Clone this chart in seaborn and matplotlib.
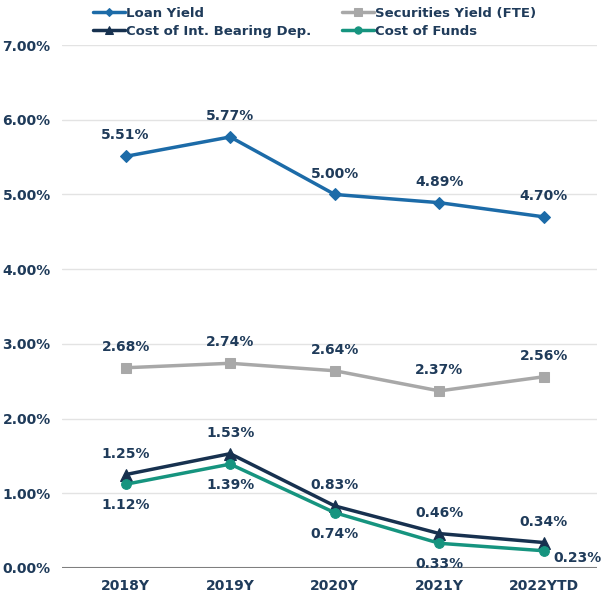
import matplotlib
matplotlib.use("Agg")
import matplotlib.pyplot as plt
import seaborn as sns
import pandas as pd

years = ["2018Y", "2019Y", "2020Y", "2021Y", "2022YTD"]
loan_yield = [5.51, 5.77, 5.00, 4.89, 4.70]
sec_yield = [2.68, 2.74, 2.64, 2.37, 2.56]
cost_ibd = [1.25, 1.53, 0.83, 0.46, 0.34]
cost_funds = [1.12, 1.39, 0.74, 0.33, 0.23]
yticks = [0, 1, 2, 3, 4, 5, 6, 7]

sns.set_theme(style="white")
plt.rcParams['font.family'] = ['DejaVu Sans']

txt = "#1F3B5A"
series = [
    ("Loan Yield", loan_yield, "#1C6BA8", "D", 6),
    ("Securities Yield (FTE)", sec_yield, "#A8A8A8", "s", 7),
    ("Cost of Int. Bearing Dep.", cost_ibd, "#17314F", "^", 8),
    ("Cost of Funds", cost_funds, "#16947F", "o", 7),
]
rows = []
for name, vals, *_ in series:
    for i, (y, v) in enumerate(zip(years, vals)):
        rows.append({"Year": y, "x": i, "value": v, "Series": name})
df = pd.DataFrame(rows)

fig = plt.figure(figsize=(6.12, 6.01), dpi=100)
ax = fig.add_axes([0.101, 0.055, 0.875, 0.870])

for name, vals, color, marker, ms in series:
    sub = df[df["Series"] == name]
    sns.lineplot(data=sub, x="x", y="value", ax=ax, color=color, marker=marker,
                 markersize=ms, markeredgecolor=color, linewidth=2.5, label=name,
                 zorder=3)

lab_kw = dict(textcoords="offset points", fontsize=10, fontweight="bold", color=txt)
for vals in (loan_yield, sec_yield, cost_ibd):
    for i, v in enumerate(vals):
        ax.annotate(f"{v:.2f}%", (i, v), xytext=(0, 10), ha="center", va="bottom", **lab_kw)
for i, v in enumerate(cost_funds):
    if i == len(cost_funds) - 1:
        ax.annotate(f"{v:.2f}%", (i, v), xytext=(24, -5), ha="center", va="center", **lab_kw)
    else:
        ax.annotate(f"{v:.2f}%", (i, v), xytext=(0, -10), ha="center", va="top", **lab_kw)

ax.set_xlim(-0.61, 4.51)
ax.set_ylim(0, 7)
ax.set_yticks(yticks)
ax.set_yticklabels([f"{t:.2f}%" for t in yticks])
ax.set_xticks(range(len(years)))
ax.set_xticklabels(years)
ax.tick_params(axis="both", length=0, labelsize=10, colors=txt, pad=8)
for lab in ax.get_xticklabels() + ax.get_yticklabels():
    lab.set_fontweight("bold")
ax.set_xlabel("")
ax.set_ylabel("")
ax.grid(axis="y", color="#E3E3E3", linewidth=1)
ax.axhline(0, color="#7F7F7F", linewidth=1.5, zorder=2)
for s in ax.spines.values():
    s.set_visible(False)

h, l = ax.get_legend_handles_labels()
ax.get_legend().remove()
leg_kw = dict(loc="upper left", frameon=False, handlelength=2.4, handletextpad=0.1,
              labelspacing=0.36, borderpad=0, borderaxespad=0, markerscale=0.75,
              prop={"weight": "bold", "size": 9.5})
leg1 = fig.legend([h[0], h[2]], [l[0], l[2]], bbox_to_anchor=(93 / 612, 1 - 7 / 601), **leg_kw)
leg2 = fig.legend([h[1], h[3]], [l[1], l[3]], bbox_to_anchor=(342 / 612, 1 - 7 / 601), **leg_kw)
for lg in (leg1, leg2):
    for t in lg.get_texts():
        t.set_color(txt)

fig.savefig("out.png", dpi=100)
